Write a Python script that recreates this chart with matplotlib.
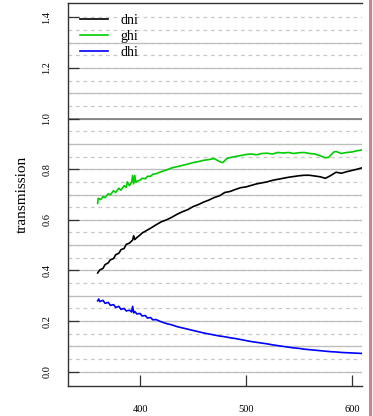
import matplotlib
matplotlib.use("Agg")
import matplotlib.pyplot as plt
from matplotlib.lines import Line2D
from matplotlib.patches import Rectangle

# wavelength (nm) / transmission
wl_dni = [360, 362, 365, 367, 370, 372, 375, 377, 380, 382, 385, 387, 390, 393,
          394, 395, 397, 400, 402, 405, 410, 415, 420, 425, 430, 435, 440, 445,
          450, 455, 460, 465, 470, 475, 480, 485, 490, 495, 500, 505, 510, 515,
          520, 525, 530, 535, 540, 545, 550, 555, 560, 565, 570, 575, 580, 585,
          590, 595, 600, 605, 610]
dni = [0.39, 0.402, 0.408, 0.423, 0.43, 0.442, 0.447, 0.462, 0.468, 0.482, 0.487,
       0.503, 0.508, 0.52, 0.537, 0.522, 0.53, 0.54, 0.548, 0.555, 0.567, 0.58,
       0.592, 0.60, 0.61, 0.622, 0.632, 0.64, 0.652, 0.66, 0.67, 0.678, 0.688,
       0.695, 0.708, 0.712, 0.72, 0.727, 0.73, 0.736, 0.742, 0.746, 0.75, 0.756,
       0.76, 0.764, 0.768, 0.771, 0.774, 0.776, 0.776, 0.773, 0.77, 0.764, 0.775,
       0.788, 0.784, 0.79, 0.795, 0.80, 0.806]

wl_ghi = [360, 360.5, 363, 365, 367, 370, 372, 375, 377, 380, 382, 385, 387, 388,
          390, 392, 393, 394, 395, 396, 397, 400, 402, 405, 407, 410, 412, 415,
          420, 425, 430, 435, 440, 445, 450, 455, 460, 465, 470, 475, 478, 482,
          485, 490, 495, 500, 505, 510, 515, 520, 525, 530, 535, 540, 545, 550,
          555, 560, 565, 570, 575, 578, 583, 585, 590, 595, 600, 605, 610]
ghi = [0.665, 0.685, 0.68, 0.692, 0.688, 0.703, 0.699, 0.715, 0.708, 0.725, 0.717,
       0.735, 0.728, 0.75, 0.735, 0.748, 0.775, 0.742, 0.775, 0.748, 0.752, 0.757,
       0.764, 0.762, 0.772, 0.772, 0.78, 0.782, 0.79, 0.797, 0.805, 0.81, 0.815,
       0.82, 0.826, 0.83, 0.835, 0.838, 0.842, 0.83, 0.826, 0.842, 0.846, 0.85,
       0.854, 0.858, 0.86, 0.857, 0.862, 0.863, 0.86, 0.866, 0.864, 0.866, 0.862,
       0.865, 0.866, 0.862, 0.86, 0.853, 0.845, 0.847, 0.868, 0.87, 0.862, 0.866,
       0.868, 0.873, 0.876]

wl_dhi = [360, 361, 362, 365, 367, 370, 372, 375, 377, 380, 382, 385, 387, 390,
          392, 393, 394, 395, 397, 400, 402, 405, 407, 410, 412, 415, 420, 425,
          430, 435, 440, 445, 450, 455, 460, 465, 470, 475, 480, 485, 490, 495,
          500, 505, 510, 515, 520, 525, 530, 535, 540, 545, 550, 555, 560, 565,
          570, 575, 580, 585, 590, 595, 600, 605, 610]
dhi = [0.28, 0.287, 0.277, 0.282, 0.27, 0.274, 0.262, 0.265, 0.254, 0.258, 0.246,
       0.25, 0.24, 0.243, 0.236, 0.258, 0.232, 0.238, 0.228, 0.23, 0.22, 0.222,
       0.212, 0.214, 0.205, 0.206, 0.197, 0.19, 0.185, 0.178, 0.173, 0.168, 0.163,
       0.158, 0.153, 0.149, 0.145, 0.141, 0.138, 0.134, 0.131, 0.127, 0.123,
       0.119, 0.116, 0.113, 0.11, 0.106, 0.103, 0.10, 0.097, 0.094, 0.092, 0.089,
       0.087, 0.085, 0.083, 0.081, 0.079, 0.078, 0.076, 0.075, 0.074, 0.073, 0.072]

x_ticks = [400, 500, 600]
y_ticks = [0.0, 0.2, 0.4, 0.6, 0.8, 1.0, 1.2, 1.4]

plt.rcParams["font.family"] = ["Liberation Serif", "DejaVu Serif"]

W, H = 373, 416
fig = plt.figure(figsize=(W / 100, H / 100), dpi=100)

# grey strip and pink border at the right edge of the image
fig.patches.append(Rectangle((370 / W, 0), 1 - 370 / W, 1, transform=fig.transFigure,
                             facecolor="#f0f0f0", edgecolor="none", zorder=0))
fig.lines.append(Line2D([370 / W, 370 / W], [0, 1], transform=fig.transFigure,
                        color="#d47f8e", lw=2.2))

ax = fig.add_axes([68 / W, 30 / H, 294 / W, 383 / H])

# background grid: dashed every 0.05, solid every 0.1, darker at 1.0
for k in range(29):
    ax.axhline(k * 0.05, color="#c8c8c8", lw=0.9, ls=(0, (3, 3)), zorder=1)
for k in range(14):
    ax.axhline(k * 0.1, color="#bdbdbd", lw=0.9, zorder=1)
ax.axhline(1.0, color="#7a7a7a", lw=1.2, zorder=1)

ax.plot(wl_dni, dni, color="black", lw=1.2, label="dni", zorder=3)
ax.plot(wl_ghi, ghi, color="#00cd00", lw=1.2, label="ghi", zorder=3)
ax.plot(wl_dhi, dhi, color="#0000ff", lw=1.2, label="dhi", zorder=3)

ax.set_xlim(332, 609.5)
ax.set_ylim(-0.0565, 1.4565)
ax.set_xticks(x_ticks)
ax.set_yticks(y_ticks)
ax.set_yticklabels([f"{v:.1f}" for v in y_ticks], rotation=90, va="center")
ax.tick_params(axis="both", direction="in", length=8, width=0.9, labelsize=7.5,
               colors="#333333")
ax.tick_params(axis="y", pad=12)
ax.tick_params(axis="x", pad=14)
for lab in ax.get_xticklabels() + ax.get_yticklabels():
    lab.set_color("black")

ax.spines["right"].set_visible(False)
for s in ("left", "bottom", "top"):
    ax.spines[s].set_color("#333333")
    ax.spines[s].set_linewidth(1.0)

ax.set_ylabel("transmission", fontsize=11, labelpad=10)

ax.legend(loc="upper left", bbox_to_anchor=(12 / 294, 1 - 11 / 383), frameon=False,
          fontsize=10, handlelength=2.0, handletextpad=0.9, labelspacing=0.2,
          borderpad=0, borderaxespad=0)

fig.savefig("out.png", dpi=100)
